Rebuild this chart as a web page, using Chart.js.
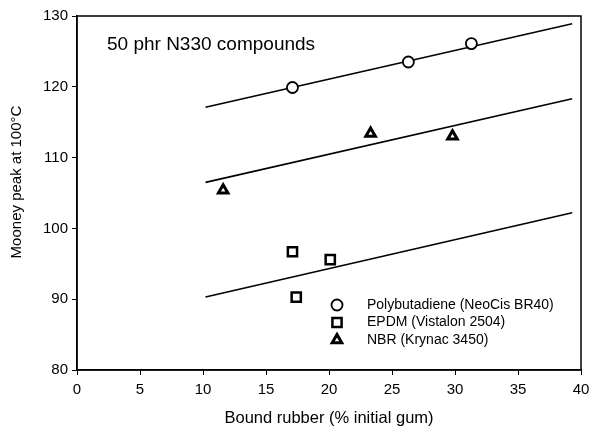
<!DOCTYPE html>
<html>
<head>
<meta charset="utf-8">
<script src="https://cdn.jsdelivr.net/npm/chart.js@4/dist/chart.umd.min.js"></script>
<style>
  body { margin: 0; background: #fff; }
  canvas { display: block; }
</style>
</head>
<body>
<canvas id="mooney" width="590" height="427"></canvas>
<script>
// measured points
var pbX = [17.1, 26.3, 31.3]
var pbY = [119.9, 123.5, 126.1]
var epdmX = [17.1, 17.4, 20.1]
var epdmY = [96.7, 90.3, 95.6]
var nbrX = [11.6, 23.3, 29.8]
var nbrY = [105.4, 113.4, 113.0]

// fitted lines (end points)
var fitX = [10.2, 39.3]
var pbFit = [117.1, 128.9]
var nbrFit = [106.5, 118.3]
var epdmFit = [90.3, 102.2]

var labels = ['Polybutadiene (NeoCis BR40)', 'EPDM (Vistalon 2504)', 'NBR (Krynac 3450)']
var xTicks = [0, 5, 10, 15, 20, 25, 30, 35, 40]
var yTicks = [80, 90, 100, 110, 120, 130]

var FONT = '"Liberation Sans", Arial, sans-serif'

function pts(xs, ys) {
    return xs.map((x, i) => ({ x: x, y: ys[i] }))
}

function fitLine(ys) {
    return {
        data: pts(fitX, ys),
        showLine: true,
        borderColor: '#000',
        borderWidth: 1.6,
        pointRadius: 0,
        fill: false
    }
}

var markers = [
    { label: labels[0], data: pts(pbX, pbY), pointStyle: 'circle', pointRadius: 5.5, pointBorderWidth: 1.8 },
    { label: labels[1], data: pts(epdmX, epdmY), pointStyle: 'rect', pointRadius: 6.5, pointBorderWidth: 2.5 },
    { label: labels[2], data: pts(nbrX, nbrY), pointStyle: 'triangle', pointRadius: 5.5, pointBorderWidth: 3 }
]
markers.forEach(d => {
    d.backgroundColor = '#fff'
    d.borderColor = '#000'
    d.pointBackgroundColor = '#fff'
    d.pointBorderColor = '#000'
})

var extras = {
    id: 'extras',
    afterDraw(chart) {
        var ctx = chart.ctx
        var a = chart.chartArea
        ctx.save()
        // box around plot
        ctx.strokeStyle = '#000'
        ctx.lineWidth = 1.5
        ctx.strokeRect(a.left, a.top, a.right - a.left, a.bottom - a.top)

        // note text
        ctx.fillStyle = '#000'
        ctx.font = '19px ' + FONT
        ctx.textBaseline = 'middle'
        ctx.fillText('50 phr N330 compounds', a.left + 30, 45)

        // y axis title (sits a bit above centre in the original)
        ctx.save()
        ctx.translate(17, 182)
        ctx.rotate(-Math.PI / 2)
        ctx.font = '15px ' + FONT
        ctx.textAlign = 'center'
        ctx.fillText('Mooney peak at 100°C', 0, 0)
        ctx.restore()

        // legend inside plot
        ctx.font = '14px ' + FONT
        ctx.textAlign = 'left'
        var rowY = [305, 322.5, 340]
        markers.forEach((d, i) => {
            ctx.fillStyle = '#fff'
            ctx.strokeStyle = '#000'
            ctx.lineWidth = d.pointBorderWidth
            Chart.helpers.drawPoint(ctx, {
                pointStyle: d.pointStyle,
                radius: d.pointRadius,
                borderWidth: d.pointBorderWidth,
                rotation: 0
            }, 337, rowY[i])
            ctx.fillStyle = '#000'
            ctx.fillText(d.label, 367, rowY[i])
        })
        ctx.restore()
    }
}

var ctx = document.getElementById('mooney')

new Chart(ctx, {
    type: 'scatter',
    data: {
        datasets: markers.concat([fitLine(pbFit), fitLine(nbrFit), fitLine(epdmFit)])
    },
    options: {
        responsive: false,
        animation: false,
        layout: { padding: { top: 16, right: 8, left: 0, bottom: 0 } },
        plugins: {
            legend: { display: false },
            tooltip: { enabled: false }
        },
        scales: {
            x: {
                type: 'linear',
                min: 0,
                max: 40,
                afterBuildTicks: s => { s.ticks = xTicks.map(v => ({ value: v })) },
                afterFit: s => { s.height = 57; s.paddingLeft = 0; s.paddingRight = 0 },
                ticks: { color: '#000', padding: 6, font: { family: FONT, size: 15 } },
                grid: { display: true, drawOnChartArea: false, drawTicks: true, tickLength: 5, color: '#000', lineWidth: 1 },
                border: { display: true, color: '#000', width: 1.5 },
                title: {
                    display: true,
                    text: 'Bound rubber (% initial gum)',
                    color: '#000',
                    font: { family: FONT, size: 16.5, lineHeight: 1 },
                    padding: { top: 0, bottom: 0 }
                }
            },
            y: {
                type: 'linear',
                min: 80,
                max: 130,
                afterBuildTicks: s => { s.ticks = yTicks.map(v => ({ value: v })) },
                afterFit: s => { s.width = 77; s.paddingTop = 0; s.paddingBottom = 0 },
                ticks: { color: '#000', padding: 4, font: { family: FONT, size: 15 } },
                grid: { display: true, drawOnChartArea: false, drawTicks: true, tickLength: 5, color: '#000', lineWidth: 1 },
                border: { display: true, color: '#000', width: 1.5 }
            }
        }
    },
    plugins: [extras]
})
</script>
</body>
</html>
